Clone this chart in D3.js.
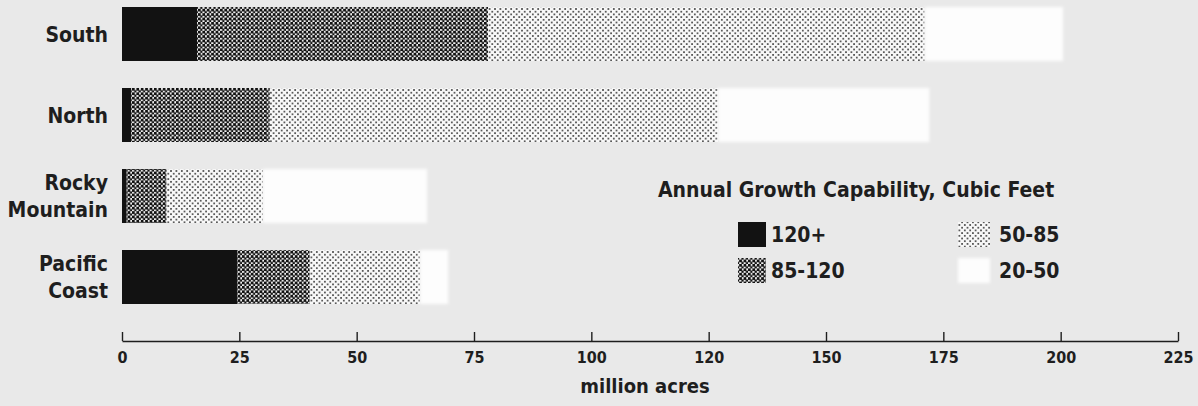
<!DOCTYPE html>
<html>
<head>
<meta charset="utf-8">
<script src="https://cdn.jsdelivr.net/npm/d3@7"></script>
<style>
  html, body { margin: 0; padding: 0; background: #e9e9e9; }
  svg { display: block; }
  text { font-family: "DejaVu Sans Condensed", "DejaVu Sans", sans-serif; fill: #1e1e1e; }
</style>
</head>
<body>
<svg id="chart" width="1198" height="406"></svg>
<script>
// Forest land by region, million acres, split by annual growth capability (cubic feet)
const regions = ["South", "North", "Rocky Mountain", "Pacific Coast"];
const cls120plus = [16, 2, 1, 24.5];
const cls85to120 = [62, 29.5, 8.5, 15.5];
const cls50to85  = [93, 95.5, 20.5, 23.5];
const cls20to50  = [29.5, 45, 35, 6];
const classKeys = ["120+", "85-120", "50-85", "20-50"];
const tickValues = [0, 25, 50, 75, 100, 125, 150, 175, 200, 225];
const tickLabels = ["0", "25", "50", "75", "100", "120", "150", "175", "200", "225"];

const rows = regions.map((r, i) => ({
  region: r,
  "120+": cls120plus[i],
  "85-120": cls85to120[i],
  "50-85": cls50to85[i],
  "20-50": cls20to50[i]
}));

const svg = d3.select("#chart");
const defs = svg.append("defs");

// Halftone fills
const dark = defs.append("pattern").attr("id", "pDark")
  .attr("patternUnits", "userSpaceOnUse").attr("width", 4.4).attr("height", 4.4);
dark.append("rect").attr("width", 4.4).attr("height", 4.4).attr("fill", "#f0f0f0");
dark.append("rect").attr("x", 0).attr("y", 0).attr("width", 2.7).attr("height", 2.7).attr("fill", "#121212");
dark.append("rect").attr("x", 2.2).attr("y", 2.2).attr("width", 2.7).attr("height", 2.7).attr("fill", "#121212");

const light = defs.append("pattern").attr("id", "pLight")
  .attr("patternUnits", "userSpaceOnUse").attr("width", 5.4).attr("height", 5.4);
light.append("rect").attr("width", 5.4).attr("height", 5.4).attr("fill", "#f8f8f8");
light.append("rect").attr("x", 0).attr("y", 0).attr("width", 1.8).attr("height", 1.8).attr("fill", "#5a5a5a");
light.append("rect").attr("x", 2.7).attr("y", 2.7).attr("width", 1.8).attr("height", 1.8).attr("fill", "#5a5a5a");

const soft = defs.append("filter").attr("id", "soft")
  .attr("x", "-5%").attr("y", "-20%").attr("width", "110%").attr("height", "140%");
soft.append("feGaussianBlur").attr("stdDeviation", 1.6);

const fills = { "120+": "#121212", "85-120": "url(#pDark)", "50-85": "url(#pLight)", "20-50": "#fdfdfd" };

const x = d3.scaleLinear().domain([0, 225]).range([122, 1178]);
const y = d3.scaleBand().domain(regions).range([7, 304]).paddingInner(1 / 3).paddingOuter(0);

const stacked = d3.stack().keys(classKeys)(rows);

// Bars
const layers = svg.append("g").selectAll("g").data(stacked).join("g")
  .attr("fill", d => fills[d.key])
  .attr("filter", d => d.key === "20-50" ? "url(#soft)" : null);

layers.selectAll("rect").data(d => d).join("rect")
  .attr("x", d => x(d[0]))
  .attr("width", d => x(d[1]) - x(d[0]))
  .attr("y", d => y(d.data.region))
  .attr("height", y.bandwidth());

// Region labels
const lab = svg.append("g").selectAll("text").data(regions).join("text")
  .attr("text-anchor", "end")
  .attr("font-size", 21)
  .attr("font-weight", "bold")
  .attr("x", 108)
  .attr("y", d => y(d) + y.bandwidth() / 2);
lab.each(function(d) {
  const parts = d.split(" ");
  const t = d3.select(this);
  parts.forEach((p, i) => {
    t.append("tspan")
      .attr("x", 108)
      .attr("dy", i === 0 ? (parts.length === 1 ? "0.36em" : "-0.3em") : "1.3em")
      .text(p);
  });
});

// Axis
const axisG = svg.append("g").attr("transform", "translate(0,341)");
axisG.call(d3.axisTop(x).tickValues(tickValues).tickSize(9).tickSizeOuter(0)
  .tickFormat((d, i) => tickLabels[i]));
axisG.select(".domain").attr("stroke", "#1e1e1e").attr("stroke-width", 1.6);
axisG.selectAll(".tick line").attr("stroke", "#1e1e1e").attr("stroke-width", 1.4);
axisG.selectAll(".tick text")
  .attr("y", 22).attr("dy", 0)
  .attr("font-size", 16).attr("font-weight", "bold")
  .attr("font-family", "'DejaVu Sans Condensed', sans-serif")
  .attr("fill", "#1e1e1e");

svg.append("text")
  .attr("x", 645).attr("y", 393)
  .attr("text-anchor", "middle")
  .attr("font-size", 20).attr("font-weight", "bold")
  .text("million acres");

// Legend
svg.append("text")
  .attr("x", 658).attr("y", 197)
  .attr("font-size", 21).attr("font-weight", "bold")
  .text("Annual Growth Capability, Cubic Feet");

const legendPos = {
  "120+":   { sx: 738, sy: 222, tx: 771 },
  "85-120": { sx: 738, sy: 258, tx: 771 },
  "50-85":  { sx: 958, sy: 222, tx: 999 },
  "20-50":  { sx: 958, sy: 258, tx: 999 }
};
const leg = svg.append("g").selectAll("g").data(classKeys).join("g");
leg.append("rect")
  .attr("x", d => legendPos[d].sx)
  .attr("y", d => legendPos[d].sy)
  .attr("width", d => d === "120+" || d === "85-120" ? 28 : 32)
  .attr("height", 25)
  .attr("fill", d => fills[d])
  .attr("filter", d => d === "20-50" ? "url(#soft)" : null);
leg.append("text")
  .attr("x", d => legendPos[d].tx)
  .attr("y", d => legendPos[d].sy + 12.5)
  .attr("dy", "0.36em")
  .attr("font-size", 21).attr("font-weight", "bold")
  .text(d => d);
</script>
</body>
</html>
